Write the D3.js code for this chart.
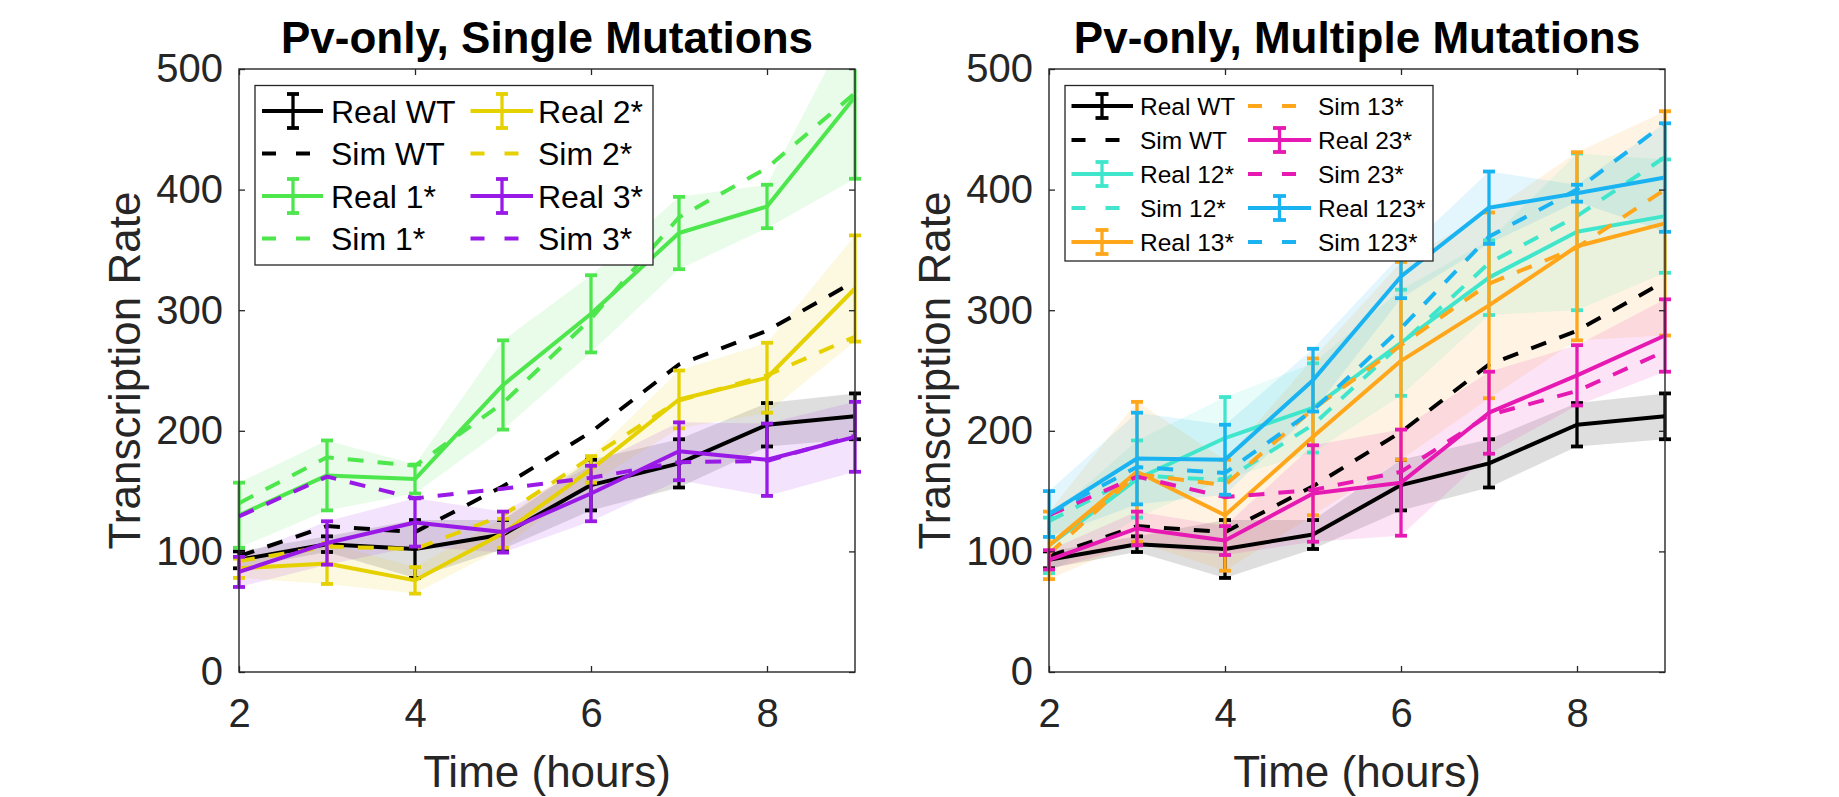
<!DOCTYPE html>
<html><head><meta charset="utf-8">
<script src="https://cdn.jsdelivr.net/npm/d3@7"></script>
<style>
body{margin:0;background:#fff}
svg{display:block}
text{font-family:"Liberation Sans",Arial,Helvetica,sans-serif}
</style>
</head><body>
<svg id="chart" width="1839" height="797"></svg>
<script>
// ---------------- data ----------------
const hours = [2, 3, 4, 5, 6, 7, 8, 9];
const xTickValues = [2, 4, 6, 8];
const yTickValues = [0, 100, 200, 300, 400, 500];
const panelTitles = ["Pv-only, Single Mutations", "Pv-only, Multiple Mutations"];
const xLabel = "Time (hours)";
const yLabel = "Transcription Rate";

// wild type (both panels)
const realWT = [93, 106, 102, 114, 155, 173, 205, 212];
const errWT  = [7, 6.5, 24, 12, 21, 20, 18, 19];
const simWT  = [96, 121, 116, 154, 199, 255, 283, 324];

// single mutations
const real1 = [130, 163, 160, 238, 297, 364, 386, 477];
const err1  = [27, 29, 12, 37, 32, 30, 18, 68];
const sim1  = [140, 178, 171, 223, 293, 377, 418, 480];

const real2 = [86, 90, 76, 115, 168, 226, 244, 318];
const err2  = [8, 17, 11, 12, 11, 24, 29, 44];
const sim2  = [92, 104, 102, 130, 178, 225, 246, 278];

const real3 = [83, 107, 124, 116, 148, 183, 176, 195];
const err3  = [12.5, 18, 20, 17, 23, 24, 30, 29];
const sim3  = [129, 162, 144, 152, 161, 174, 175, 196];

// multiple mutations
const real12 = [105, 160, 194, 219, 273, 327, 365, 378];
const err12  = [23, 32, 34, 37, 44, 31, 65, 47];
const sim12  = [125, 163, 159, 205, 272, 339, 378, 427];

const real13 = [105, 166, 130, 195, 258, 304, 353, 372];
const err13  = [28, 58, 46, 65, 82, 77, 78, 93];
const sim13  = [98, 164, 155, 218, 271, 322, 352, 400];

const real23 = [93, 119, 109, 148, 157, 215, 246, 279];
const err23  = [8, 14, 12, 40, 44, 34, 25, 30];
const sim23  = [130, 162, 145, 151, 166, 213, 233, 266];

const real123 = [131, 177, 176, 242, 328, 385, 397, 410];
const err123  = [19, 38, 29, 26, 18, 30, 7, 45];
const sim123  = [131, 170, 165, 217, 285, 361, 400, 455];

const singleNames = ["WT", "1*", "2*", "3*"];
const multiNames  = ["WT", "12*", "13*", "23*", "123*"];
const singleColors = ["#000000", "#4de64d", "#e6d100", "#991ae6"];
const multiColors  = ["#000000", "#40e6cc", "#ffa61a", "#e61ab3", "#1ab3f2"];

// ---------------- build series ----------------
function makeSeries(names, colors, reals, errs, sims) {
  return names.map((n, i) => ({
    name: n, color: colors[i],
    pts: hours.map((t, j) => ({t, real: reals[i][j], err: errs[i][j], sim: sims[i][j]}))
  }));
}
const singleSeries = makeSeries(singleNames, singleColors,
  [realWT, real1, real2, real3], [errWT, err1, err2, err3], [simWT, sim1, sim2, sim3]);
const multiSeries = makeSeries(multiNames, multiColors,
  [realWT, real12, real13, real23, real123], [errWT, err12, err13, err23, err123],
  [simWT, sim12, sim13, sim23, sim123]);

// ---------------- layout ----------------
const W = 1839, H = 797;
const plotTop = 69, plotBottom = 672;
const axisColor = "#262626";
const FONT = '"Liberation Sans",Arial,Helvetica,sans-serif';

const panels = [
  { left: 239, right: 855, title: panelTitles[0], series: singleSeries,
    legend: { x0: 255, x1: 653, y0: 85.5, y1: 265, rows: 4, rowY0: 111, rowDy: 42.5,
              cols: [{l0: 262, l1: 323, eb: 293, tx: 331}, {l0: 470.5, l1: 533, eb: 502, tx: 538}],
              font: 32, capW: 12, capH: 17 } },
  { left: 1049, right: 1665, title: panelTitles[1], series: multiSeries,
    legend: { x0: 1065, x1: 1433, y0: 85.5, y1: 261, rows: 5, rowY0: 106, rowDy: 34,
              cols: [{l0: 1071.5, l1: 1133, eb: 1102, tx: 1140}, {l0: 1248, l1: 1311, eb: 1279.5, tx: 1318}],
              font: 24.5, capW: 13, capH: 12 } }
];

const svg = d3.select("#chart");
svg.append("rect").attr("width", W).attr("height", H).attr("fill", "#fff");

const LW = 4, DASH = "16,14", EBW = 3.3, CAPW = 3.8, CAPLEN = 12;

panels.forEach((p, pi) => {
  const x = d3.scaleLinear().domain([2, 9]).range([p.left, p.right]);
  const y = d3.scaleLinear().domain([0, 500]).range([plotBottom, plotTop]);
  const g = svg.append("g");

  const clipId = "clip" + pi;
  svg.append("defs").append("clipPath").attr("id", clipId)
    .append("rect").attr("x", p.left - 14).attr("y", plotTop)
    .attr("width", p.right - p.left + 28).attr("height", plotBottom - plotTop);

  const data = g.append("g").attr("clip-path", `url(#${clipId})`);

  // bands
  const area = d3.area().x(d => x(d.t)).y0(d => y(d.real - d.err)).y1(d => y(d.real + d.err));
  p.series.forEach(s => {
    data.append("path").datum(s.pts).attr("d", area)
      .attr("fill", s.color).attr("fill-opacity", s.color === "#000000" ? 0.13 : 0.12).attr("stroke", "none");
  });

  const lineReal = d3.line().x(d => x(d.t)).y(d => y(d.real));
  const lineSim = d3.line().x(d => x(d.t)).y(d => y(d.sim));

  p.series.forEach(s => {
    // error bars
    const eb = data.append("g").attr("stroke", s.color);
    eb.selectAll("line.v").data(s.pts).join("line").attr("class", "v")
      .attr("x1", d => x(d.t)).attr("x2", d => x(d.t))
      .attr("y1", d => y(d.real - d.err)).attr("y2", d => y(d.real + d.err))
      .attr("stroke-width", EBW);
    ["lo", "hi"].forEach(k => {
      eb.selectAll("line." + k).data(s.pts).join("line").attr("class", k)
        .attr("x1", d => x(d.t) - CAPLEN / 2).attr("x2", d => x(d.t) + CAPLEN / 2)
        .attr("y1", d => y(k === "lo" ? d.real - d.err : d.real + d.err))
        .attr("y2", d => y(k === "lo" ? d.real - d.err : d.real + d.err))
        .attr("stroke-width", CAPW);
    });
    data.append("path").datum(s.pts).attr("d", lineReal)
      .attr("fill", "none").attr("stroke", s.color).attr("stroke-width", LW)
      .attr("stroke-linejoin", "round");
    data.append("path").datum(s.pts).attr("d", lineSim)
      .attr("fill", "none").attr("stroke", s.color).attr("stroke-width", LW)
      .attr("stroke-dasharray", DASH);
  });

  // axes
  const styleAxis = sel => {
    sel.select(".domain").remove();
    sel.selectAll(".tick line").attr("stroke", axisColor).attr("stroke-width", 1.3);
    sel.selectAll(".tick text").attr("fill", axisColor).attr("font-size", 40).attr("font-family", FONT);
  };
  g.append("g").attr("transform", `translate(0,${plotBottom})`)
    .call(d3.axisBottom(x).tickValues(xTickValues).tickSizeInner(-6).tickSizeOuter(0).tickPadding(27).tickFormat(d3.format("d")))
    .call(styleAxis);
  g.append("g").attr("transform", `translate(0,${plotTop})`)
    .call(d3.axisTop(x).tickValues(xTickValues).tickSizeInner(-6).tickSizeOuter(0).tickFormat(""))
    .call(styleAxis);
  g.append("g").attr("transform", `translate(${p.left},0)`)
    .call(d3.axisLeft(y).tickValues(yTickValues).tickSizeInner(-6).tickSizeOuter(0).tickPadding(16).tickFormat(d3.format("d")))
    .call(styleAxis);
  g.append("g").attr("transform", `translate(${p.right},0)`)
    .call(d3.axisRight(y).tickValues(yTickValues).tickSizeInner(-6).tickSizeOuter(0).tickFormat(""))
    .call(styleAxis);

  g.append("rect").attr("x", p.left).attr("y", plotTop)
    .attr("width", p.right - p.left).attr("height", plotBottom - plotTop)
    .attr("fill", "none").attr("stroke", axisColor).attr("stroke-width", 1.4);

  // labels
  g.append("text").attr("x", (p.left + p.right) / 2).attr("y", 53)
    .attr("text-anchor", "middle").attr("font-size", 44).attr("font-weight", "bold")
    .attr("fill", "#000").text(p.title);
  g.append("text").attr("x", (p.left + p.right) / 2).attr("y", 787)
    .attr("text-anchor", "middle").attr("font-size", 44).attr("fill", axisColor).text(xLabel);
  g.append("text").attr("transform", `translate(${p.left - 99},${(plotTop + plotBottom) / 2}) rotate(-90)`)
    .attr("text-anchor", "middle").attr("font-size", 44).attr("fill", axisColor).text(yLabel);

  // legend
  const L = p.legend;
  const lg = g.append("g");
  lg.append("rect").attr("x", L.x0).attr("y", L.y0).attr("width", L.x1 - L.x0).attr("height", L.y1 - L.y0)
    .attr("fill", "#fff").attr("stroke", axisColor).attr("stroke-width", 1.3);
  const entries = [];
  p.series.forEach(s => {
    entries.push({label: "Real " + s.name, color: s.color, real: true});
    entries.push({label: "Sim " + s.name, color: s.color, real: false});
  });
  entries.forEach((e, i) => {
    const col = L.cols[Math.floor(i / L.rows)];
    const cy = L.rowY0 + (i % L.rows) * L.rowDy;
    const eg = lg.append("g").attr("stroke", e.color);
    eg.append("line").attr("x1", col.l0).attr("x2", col.l1).attr("y1", cy).attr("y2", cy)
      .attr("stroke-width", LW).attr("stroke-dasharray", e.real ? null : "14,20");
    if (e.real) {
      eg.append("line").attr("x1", col.eb).attr("x2", col.eb).attr("y1", cy - L.capH).attr("y2", cy + L.capH).attr("stroke-width", EBW);
      [-1, 1].forEach(sg => eg.append("line").attr("x1", col.eb - L.capW / 2).attr("x2", col.eb + L.capW / 2)
        .attr("y1", cy + sg * L.capH).attr("y2", cy + sg * L.capH).attr("stroke-width", CAPW));
    }
    lg.append("text").attr("x", col.tx).attr("y", cy).attr("dy", "0.36em")
      .attr("font-size", L.font).attr("fill", "#000").text(e.label);
  });
});
</script>
</body></html>
